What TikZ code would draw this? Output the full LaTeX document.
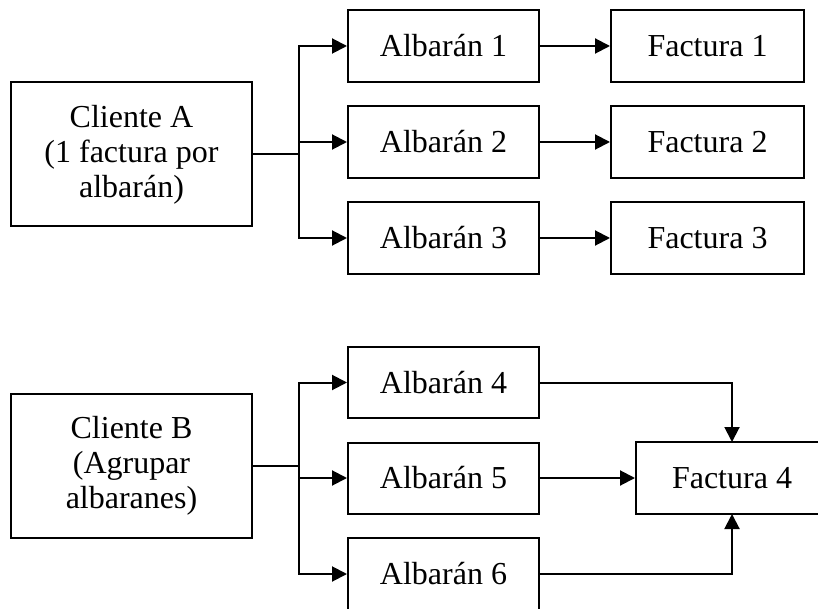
\documentclass[tikz,border=0pt]{standalone}
\usepackage{fontspec}
\setmainfont{Liberation Serif}
\usetikzlibrary{arrows.meta}
\begin{document}
\begin{tikzpicture}[x=1pt,y=-1pt,
  box/.style={draw, line width=2pt, inner sep=0pt, align=center,
    font=\fontsize{32}{35}\selectfont},
  alb/.style={box, minimum width=191pt, minimum height=72pt},
  conn/.style={line width=2pt},
  arr/.style={conn, -{Triangle[length=15pt,width=15pt]}}]
\useasboundingbox (0,0) rectangle (818,609);
\clip (0,0) rectangle (818,609);
% Cliente A group
\node[box, minimum width=241pt, minimum height=144pt] (ca) at (131.5,154.5) {Cliente A\\(1 factura por\\albarán)};
\node[alb] (a1) at (443.5,46) {Albarán 1};
\node[alb] (a2) at (443.5,142) {Albarán 2};
\node[alb] (a3) at (443.5,238) {Albarán 3};
\node[alb, minimum width=193pt] (f1) at (707.5,46) {Factura 1};
\node[alb, minimum width=193pt] (f2) at (707.5,142) {Factura 2};
\node[alb, minimum width=193pt] (f3) at (707.5,238) {Factura 3};
\draw[conn] (ca.east) -- (299,154.5) coordinate (brA);
\draw[arr] (brA) |- (a1.west);
\draw[arr] (brA) |- (a2.west);
\draw[arr] (brA) |- (a3.west);
\draw[arr] (a1.east) -- (f1.west);
\draw[arr] (a2.east) -- (f2.west);
\draw[arr] (a3.east) -- (f3.west);
% Cliente B group
\node[box, minimum width=241pt, minimum height=144pt] (cb) at (131.5,466) {Cliente B\\(Agrupar\\albaranes)};
\node[alb, minimum height=71pt] (a4) at (443.5,382.5) {Albarán 4};
\node[alb, minimum height=71pt] (a5) at (443.5,478) {Albarán 5};
\node[alb] (a6) at (443.5,574) {Albarán 6};
\node[alb, minimum width=210pt] (f4) at (741,478) {\hspace*{-18pt}Factura 4};
\coordinate (f4top) at (732,442);
\coordinate (f4bot) at (732,514);
\draw[conn] (cb.east) -- (299,466) coordinate (brB);
\draw[arr] (brB) |- (a4.west);
\draw[arr] (brB) |- (a5.west);
\draw[arr] (brB) |- (a6.west);
\draw[arr] (a4.east) -| (f4top);
\draw[arr] (a5.east) -- (f4.west);
\draw[arr] (a6.east) -| (f4bot);
\end{tikzpicture}
\end{document}
